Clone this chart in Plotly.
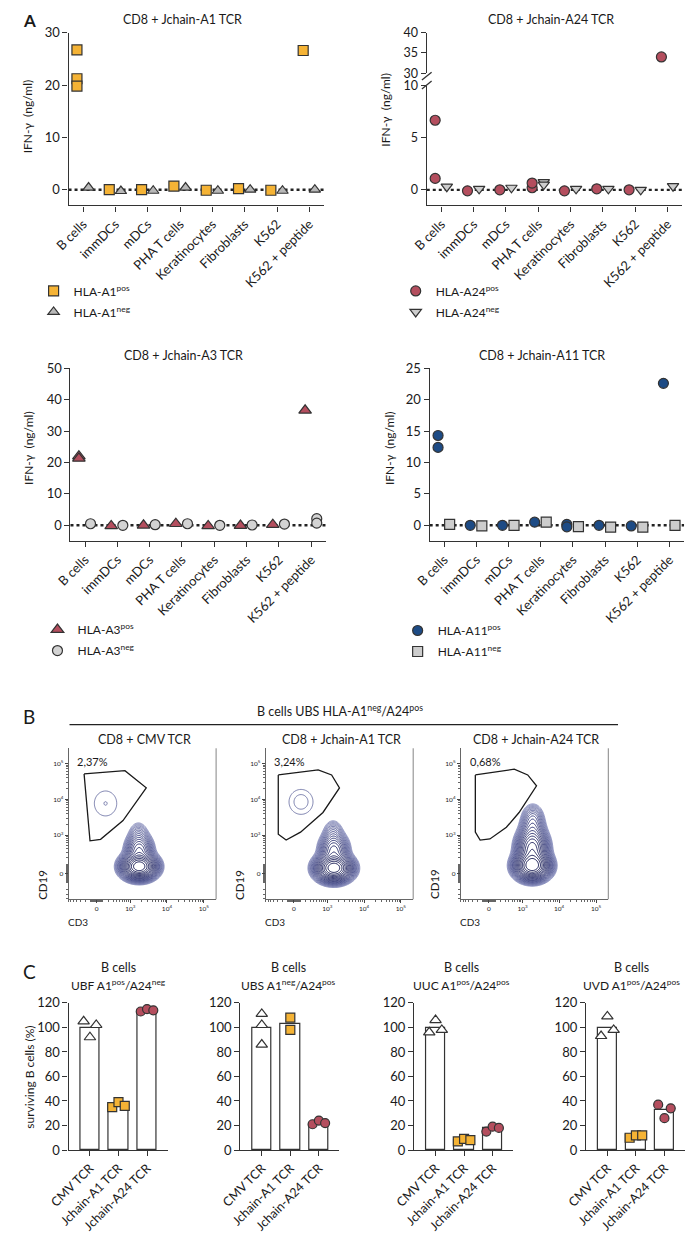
import numpy as np
import plotly.graph_objects as go

W, H = 685, 1234
FONT = "Lato, 'Open Sans', sans-serif"
INK = "#1a1a1a"
AX = "#333333"

# ---------------- data ----------------
cells = ["B cells", "immDCs", "mDCs", "PHA T cells", "Keratinocytes",
         "Fibroblasts", "K562", "K562 + peptide"]

a1_pos = [[26.7, 21.2, 19.8], [0.0], [0.0], [0.7], [-0.1], [0.2], [-0.1], [26.6]]
a1_neg = [[0.4], [-0.25], [-0.2], [0.4], [-0.2], [0.0], [-0.2], [0.0]]
a24_pos = [[6.7, 1.1], [-0.1], [0.0], [0.2, 0.65], [-0.1], [0.1], [0.0], [34.0]]
a24_neg = [[0.3], [0.1], [0.2], [0.75, 0.5], [0.1], [0.1], [0.0], [0.35]]
a3_pos = [[22.0, 21.3], [-0.2], [0.0], [0.5], [-0.2], [-0.1], [0.2], [36.6]]
a3_neg = [[0.5], [0.0], [0.2], [0.5], [0.0], [0.1], [0.4], [2.1, 0.7]]
a11_pos = [[14.3, 12.4], [0.0], [0.0], [0.5], [0.15, -0.25], [0.0], [-0.1], [22.6]]
a11_neg = [[0.15], [-0.1], [0.0], [0.5], [-0.2], [-0.3], [-0.3], [0.0]]

tcrs = ["CMV TCR", "Jchain-A1 TCR", "Jchain-A24 TCR"]
c_titles = ["UBF A1<sup>pos</sup>/A24<sup>neg</sup>", "UBS A1<sup>neg</sup>/A24<sup>pos</sup>",
            "UUC A1<sup>pos</sup>/A24<sup>pos</sup>", "UVD A1<sup>pos</sup>/A24<sup>pos</sup>"]
c_bars = [[100, 37, 114], [100, 103, 22], [100, 8, 18], [100, 12, 33]]
c_cmv = [[105, 92, 102], [111, 102, 86], [96, 106, 98], [93, 109, 98]]
c_a1 = [[35, 39, 36], [108, 98], [7, 9, 8], [10, 12, 12]]
c_a24 = [[113, 115, 114], [21, 24, 22], [15, 19, 18], [37, 26, 34]]

flow_titles = ["CD8 + CMV TCR", "CD8 + Jchain-A1 TCR", "CD8 + Jchain-A24 TCR"]
flow_pct = ["2,37%", "3,24%", "0,68%"]
# CD3+ T-cell population (display/arcsinh units): cx, cy, sx, sy, weight
tcell_pops = [
    [(2.65, 0.45, 0.50, 0.38, 1.0), (2.65, 1.5, 0.40, 0.50, 0.20), (2.6, 2.5, 0.32, 0.45, 0.03)],
    [(2.5, 0.35, 0.52, 0.40, 1.0), (2.5, 1.5, 0.42, 0.52, 0.22), (2.45, 2.6, 0.32, 0.45, 0.035)],
    [(2.7, 0.5, 0.50, 0.42, 1.0), (2.7, 1.6, 0.45, 0.60, 0.45), (2.72, 2.9, 0.37, 0.65, 0.09),
     (2.75, 3.7, 0.32, 0.40, 0.02)],
]
# CD19+ B-cell population inside the gate: cx, cy, sx, sy, level list (fraction of peak)
bcell_pops = [
    (0.55, 4.5, 0.41, 0.47, [0.236, 0.97]),
    (0.45, 4.6, 0.44, 0.47, [0.236, 0.61]),
    None,
]
gate_x = [[-0.79, 1.76, 3.09, 1.64, 0.24, -0.42, -0.79],
          [-0.97, 1.52, 2.36, 2.85, 1.82, 0.42, -0.48, -0.97, -0.97],
          [-0.85, 1.58, 2.42, 2.97, 1.88, 1.09, 0.06, -0.55, -0.85, -0.85]]
gate_y = [[6.4, 6.6, 5.5, 3.4, 2.2, 2.1, 6.4],
          [6.33, 6.65, 6.33, 5.5, 3.92, 2.66, 2.15, 2.53, 6.33],
          [6.33, 6.7, 6.33, 5.63, 3.92, 2.97, 2.22, 2.15, 2.66, 6.33]]
X_COF, Y_COF = 250.0, 170.0

# ---------------- helpers ----------------
def xd(l, r):
    return [max(0.0, l / W), min(1.0, r / W)]

def yd(top, bottom):
    return [max(0.0, 1 - bottom / H), min(1.0, 1 - top / H)]

def xid(i):
    return "x" if i == 1 else f"x{i}"

def yid(i):
    return "y" if i == 1 else f"y{i}"

def xkey(i):
    return "xaxis" if i == 1 else f"xaxis{i}"

def ykey(i):
    return "yaxis" if i == 1 else f"yaxis{i}"

fig = go.Figure()
layout = dict(width=W, height=H, autosize=False, margin=dict(l=0, r=0, t=0, b=0),
              paper_bgcolor="white", plot_bgcolor="white",
              font=dict(family=FONT, size=12, color=INK), showlegend=True)
annotations, shapes = [], []

def ann(text, x, y, size=12, angle=0, xanchor="center", yanchor="middle", **kw):
    annotations.append(dict(text=text, x=x / W, y=1 - y / H, xref="paper", yref="paper",
                            showarrow=False, font=dict(size=size, family=FONT, color=INK),
                            textangle=angle, xanchor=xanchor, yanchor=yanchor, **kw))

base_axis = dict(showgrid=False, zeroline=False, showline=True, linecolor=AX, linewidth=1.3,
                 ticks="outside", ticklen=5, tickwidth=1.3, tickcolor=AX)

# ---------------- Panel A ----------------
ORANGE, ROSE, NAVY = "#F5B335", "#B44E5E", "#1D4B85"
EDGE = dict(color="#333333", width=1.2)

a_panels = [
    dict(xi=1, yi=1, dom=(50, 313), ydom=(25, 200), yr=[-3, 30], dt=10,
         title="CD8 + Jchain-A1 TCR", tx=167, ty=12, lab_x=8, lab_y=110,
         pos=a1_pos, neg=a1_neg, pname="HLA-A1<sup>pos</sup>", nname="HLA-A1<sup>neg</sup>",
         psym="square", nsym="triangle-up", pcol=ORANGE, ncol="#B8B8B8", psz=10, nsz=10,
         leg=(14, 272)),
    dict(xi=2, yi=2, dom=(419, 682), ydom=(79, 200), yr=[-1.5, 10], dt=5,
         title="CD8 + Jchain-A24 TCR", tx=547, ty=12, lab_x=377, lab_y=103,
         pos=a24_pos, neg=a24_neg, pname="HLA-A24<sup>pos</sup>", nname="HLA-A24<sup>neg</sup>",
         psym="circle", nsym="triangle-down", pcol=ROSE, ncol="#CDCDCD", psz=10, nsz=10,
         leg=(387, 272)),
    dict(xi=3, yi=4, dom=(52, 315), ydom=(365, 540), yr=[-5, 50], dt=10,
         title="CD8 + Jchain-A3 TCR", tx=168, ty=352, lab_x=8, lab_y=446,
         pos=a3_pos, neg=a3_neg, pname="HLA-A3<sup>pos</sup>", nname="HLA-A3<sup>neg</sup>",
         psym="triangle-up", nsym="circle", pcol=ROSE, ncol="#D3D3D3", psz=11, nsz=10,
         leg=(18, 615)),
    dict(xi=4, yi=5, dom=(422, 684), ydom=(365, 540), yr=[-2.5, 25], dt=5,
         title="CD8 + Jchain-A11 TCR", tx=538, ty=352, lab_x=380, lab_y=446,
         pos=a11_pos, neg=a11_neg, pname="HLA-A11<sup>pos</sup>", nname="HLA-A11<sup>neg</sup>",
         psym="circle", nsym="square", pcol=NAVY, ncol="#CDCDCD", psz=10, nsz=10,
         leg=(389, 616)),
]

for k, p in enumerate(a_panels):
    xn, yn = xid(p["xi"]), yid(p["yi"])
    layout[xkey(p["xi"])] = dict(base_axis, domain=xd(*p["dom"]), range=[-0.45, 7.45], anchor=yn,
                                 tickmode="array", tickvals=list(range(len(cells))), ticktext=cells,
                                 tickangle=-45, tickfont=dict(size=13))
    layout[ykey(p["yi"])] = dict(base_axis, domain=yd(*p["ydom"]), range=p["yr"], anchor=xn,
                                 dtick=p["dt"], tick0=0, tickfont=dict(size=13))
    legname = "legend" if k == 0 else f"legend{k + 1}"
    layout[legname] = dict(x=p["leg"][0] / W, y=1 - p["leg"][1] / H, xanchor="left", yanchor="top",
                           bgcolor="rgba(0,0,0,0)", font=dict(size=12, family=FONT),
                           tracegroupgap=2, itemwidth=30)
    for series, name, sym, col, sz, off in [(p["pos"], p["pname"], p["psym"], p["pcol"], p["psz"], -0.19),
                                           (p["neg"], p["nname"], p["nsym"], p["ncol"], p["nsz"], 0.17)]:
        xs, ys = [], []
        for i, vals in enumerate(series):
            for v in vals:
                if p["xi"] == 2 and v > 10:
                    continue
                xs.append(i + off)
                ys.append(v)
        fig.add_trace(go.Scatter(x=xs, y=ys, mode="markers", name=name, xaxis=xn, yaxis=yn,
                                 legend=legname, legendgroup=f"{legname}{name}", cliponaxis=False,
                                 marker=dict(symbol=sym, size=sz, color=col, line=EDGE)))
    shapes.append(dict(type="line", xref=f"{xn} domain", yref=yn, x0=0, x1=1, y0=0, y1=0,
                       layer="below", line=dict(color="#222222", width=2.4, dash="dot")))
    ann(p["title"], p["tx"], p["ty"], size=12.5)
    ann("IFN-γ  (ng/ml)", p["lab_x"], p["lab_y"], size=12, angle=-90)

# upper segment of broken axis (A24 panel)
layout["yaxis3"] = dict(base_axis, domain=yd(25, 66), range=[30, 40], anchor="x2",
                        tickvals=[30, 35, 40], tickfont=dict(size=12.5))
layout["yaxis2"]["tickfont"] = dict(size=12.5)
hx, hy = [], []
for i, vals in enumerate(a24_pos):
    for v in vals:
        if v > 10:
            hx.append(i - 0.19)
            hy.append(v)
fig.add_trace(go.Scatter(x=hx, y=hy, mode="markers", xaxis="x2", yaxis="y3", showlegend=False,
                         cliponaxis=False, marker=dict(symbol="circle", size=10, color=ROSE, line=EDGE)))
for yb in (69, 78):
    shapes.append(dict(type="line", xref="paper", yref="paper",
                       x0=(419 - 5) / W, x1=(419 + 5) / W, y0=1 - (yb + 4) / H, y1=1 - (yb - 4) / H,
                       line=dict(color=AX, width=1.3)))
ann("<b>A</b>", 1, 0, size=17, xanchor="left", yanchor="top")

# ---------------- Panel B ----------------
ann("B", 1, 704, size=19, xanchor="left", yanchor="top")
ann("B cells UBS HLA-A1<sup>neg</sup>/A24<sup>pos</sup>", 330, 712, size=12.5)
shapes.append(dict(type="line", xref="paper", yref="paper", x0=51 / W, x1=616 / W,
                   y0=1 - 726 / H, y1=1 - 726 / H, line=dict(color="#222222", width=1.2)))

def tx(v):
    return float(np.arcsinh(v / X_COF))

def ty(v):
    return float(np.arcsinh(v / Y_COF))

x_major = [tx(v) for v in (0, 1e3, 1e4, 1e5)]
y_major = [ty(v) for v in (0, 1e3, 1e4, 1e5)]
minor_vals = [s * k * 10 ** n for n in (1, 2, 3, 4) for k in range(1, 10) for s in (1, -1)
              if not (n == 4 and s < 0) and not (n == 3 and s < 0 and k > 1)]
x_minor = sorted(tx(v) for v in minor_vals)
y_minor = sorted(ty(v) for v in minor_vals)
pow_text = ["0", "10<sup>3</sup>", "10<sup>4</sup>", "10<sup>5</sup>"]

gx = np.linspace(-1.76, 7.45, 185)
gy = np.linspace(-1.65, 8.04, 195)
GX, GY = np.meshgrid(gx, gy)
flow_left = [50, 253, 454]
flow_scale = [[0, "#8C91C0"], [0.4, "#464C8B"], [1, "#12164F"]]

for j in range(3):
    xi, yi = 5 + j, 6 + j
    xn, yn = xid(xi), yid(yi)
    L = flow_left[j]
    flow_ax = dict(showgrid=False, zeroline=False, showline=True, linecolor="#666666", linewidth=0.8,
                   ticks="outside", ticklen=3, tickwidth=0.7, tickcolor="#444444",
                   tickfont=dict(size=6.5), tickmode="array")
    layout[xkey(xi)] = dict(flow_ax, domain=xd(L, L + 152), range=[-1.76, 7.45], anchor=yn,
                            tickvals=x_major, ticktext=pow_text,
                            minor=dict(tickvals=x_minor, ticklen=2, tickcolor="#666666", ticks="outside"))
    layout[ykey(yi)] = dict(flow_ax, domain=yd(750, 903), range=[-1.65, 8.04], anchor=xn,
                            tickvals=y_major, ticktext=pow_text,
                            minor=dict(tickvals=y_minor, ticklen=2, tickcolor="#666666", ticks="outside"))
    Z = np.zeros_like(GX)
    for cx, cy, sx, sy, w in tcell_pops[j]:
        Z += w * np.exp(-0.5 * (((GX - cx) / sx) ** 2 + ((GY - cy) / sy) ** 2))
    Z = np.log10(np.maximum(Z, 1e-6))
    fig.add_trace(go.Contour(x=gx, y=gy, z=Z, xaxis=xn, yaxis=yn, showscale=False, showlegend=False,
                             zmin=-2.2, zmax=0.0, colorscale=flow_scale,
                             contours=dict(coloring="lines", start=-2.1, end=-0.01, size=0.1),
                             line=dict(width=1.0), hoverinfo="skip"))
    bp = bcell_pops[j]
    if bp is not None:
        cx, cy, sx, sy, lv = bp
        ZB = np.exp(-0.5 * (((GX - cx) / sx) ** 2 + ((GY - cy) / sy) ** 2))
        fig.add_trace(go.Contour(x=gx, y=gy, z=ZB, xaxis=xn, yaxis=yn, showscale=False, showlegend=False,
                                 contours=dict(coloring="none", start=lv[0], end=lv[-1],
                                               size=max(lv[-1] - lv[0], 1e-3)),
                                 line=dict(width=0.9, color="#6A6FA3"), hoverinfo="skip"))
    fig.add_trace(go.Scatter(x=gate_x[j], y=gate_y[j], mode="lines", xaxis=xn, yaxis=yn,
                             showlegend=False, line=dict(color="#1a1a1a", width=1.3, shape="linear")))
    shapes.append(dict(type="line", xref=f"{xn} domain", yref=f"{yn} domain", x0=1, x1=1, y0=0, y1=1,
                       line=dict(color="#666666", width=0.8)))
    ann(flow_titles[j], L + 78, 741, size=12.5)
    ann(flow_pct[j], L + 7, 763, size=11, xanchor="left")
    ann("CD19", L - 27, 888, size=11.5, angle=-90)
    ann("CD3", L + 10, 926, size=10)

# ---------------- Panel C ----------------
ann("C", 1, 962, size=19, xanchor="left", yanchor="top")
ann("surviving B cells (%)", 10, 1083, size=12, angle=-90)
c_left = [50, 227, 406, 583]
c_center = [101, 277, 455, 630]
jit = [-0.22, 0.0, 0.22]
for j in range(4):
    xi, yi = 8 + j, 9 + j
    xn, yn = xid(xi), yid(yi)
    L = c_left[j]
    layout[xkey(xi)] = dict(base_axis, domain=xd(L, L + 102), range=[-0.75, 2.72], anchor=yn,
                            tickmode="array", tickvals=[0, 1, 2], ticktext=tcrs, tickangle=-45,
                            tickfont=dict(size=12.5))
    layout[ykey(yi)] = dict(base_axis, domain=yd(1008, 1157), range=[0, 120], anchor=xn,
                            dtick=20, tick0=0, tickfont=dict(size=13))
    fig.add_trace(go.Bar(x=[0, 1, 2], y=c_bars[j], width=0.68, xaxis=xn, yaxis=yn, showlegend=False,
                         marker=dict(color="white", line=dict(color="#333333", width=1.2))))
    for gi, (vals, sym, col) in enumerate([(c_cmv[j], "triangle-up", "white"),
                                           (c_a1[j], "square", ORANGE),
                                           (c_a24[j], "circle", ROSE)]):
        offs = jit if len(vals) == 3 and not (j == 1 and gi == 0) else [0.0] * len(vals)
        fig.add_trace(go.Scatter(x=[gi + o for o in offs], y=vals, mode="markers", xaxis=xn, yaxis=yn,
                                 showlegend=False, cliponaxis=False,
                                 marker=dict(symbol=sym, size=9 if sym != "triangle-up" else 10,
                                             color=col, line=EDGE)))
    ann("B cells", c_center[j], 972, size=12.5)
    ann(c_titles[j], c_center[j], 990, size=12)

layout["annotations"] = annotations
layout["shapes"] = shapes
layout["bargap"] = 0
fig.update_layout(**layout)
fig.write_html("out.html", config={"displayModeBar": False},
               post_script="document.body.style.margin='0';document.body.style.overflow='hidden';")
